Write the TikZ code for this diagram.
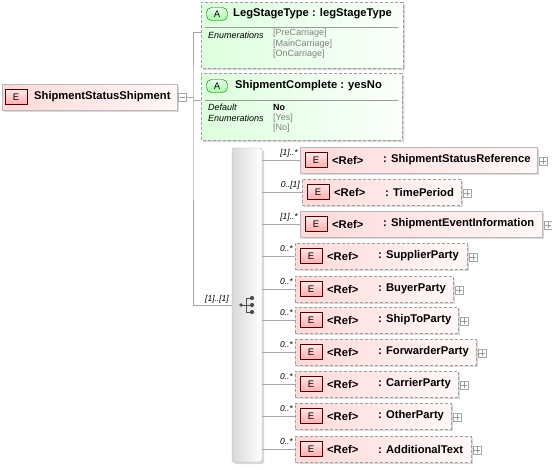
\documentclass[tikz,border=0pt]{standalone}
\usepackage{fontspec}
\setmainfont{Liberation Sans}
\usetikzlibrary{shapes.misc,shadows}
\tikzset{
  shade/.style={drop shadow={shadow xshift=2pt,shadow yshift=-2pt,fill=gray!30,opacity=1}},
  elbox/.style={draw=gray!55,left color=red!15,right color=red!3,shade,inner sep=0pt,minimum height=26pt},
  optbox/.style={elbox,dash pattern=on 3pt off 2pt,draw=gray!75},
  attrbox/.style={chamfered rectangle,chamfered rectangle corners={north west,south west},
    chamfered rectangle xsep=5pt,chamfered rectangle ysep=5pt,draw=gray!75,
    dash pattern=on 3pt off 2pt,left color=green!13,right color=green!2,shade,inner sep=0pt},
  seqbox/.style={draw=gray!60,left color=gray!30,right color=white,rounded corners=2pt,shade,inner sep=0pt},
  ebadge/.style={draw=red!30!black,top color=red!10,bottom color=red!32,minimum width=22pt,
    minimum height=15pt,inner sep=0pt,font=\fontsize{9.5}{9.5}\selectfont},
  abadge/.style={draw=green!40!black,top color=green!8,bottom color=green!35,rounded corners=5pt,
    minimum width=21pt,minimum height=13pt,inner sep=0pt,font=\fontsize{9.5}{9.5}\selectfont},
  plusbox/.style={draw=gray!70,fill=white,minimum size=8pt,inner sep=0pt},
  title/.style={font=\fontsize{11.2}{13}\selectfont\bfseries,inner sep=0pt,anchor=west},
  small/.style={font=\fontsize{9}{10}\selectfont,inner sep=0pt,anchor=west},
  mult/.style={font=\fontsize{8.5}{10}\selectfont\itshape,inner sep=0pt,anchor=east},
  conn/.style={draw=gray!70,line width=0.6pt}
}
\begin{document}
\begin{tikzpicture}[x=1pt,y=-1pt]
\useasboundingbox[fill=white] (0,0) rectangle (552,469);
% root element
\node[elbox,anchor=west,minimum width=175pt] (root) at (2,97) {};
\node[ebadge] (rootE) at (16,97) {E};
\node[title] (rootname) at (34,97) {ShipmentStatusShipment};
\node[plusbox] (rootminus) at (182.5,97) {};
\draw[gray!80] ([xshift=1.5pt]rootminus.west) -- ([xshift=-1.5pt]rootminus.east);
\coordinate (trunk) at (193,97);
% attributes
\node[attrbox,minimum width=202pt,minimum height=66pt] (attr1) at (302,35) {};
\node[abadge] (a1) at (217,14) {A};
\node[title] (a1name) at (233,14) {LegStageType : legStageType};
\draw[gray!80] (205,27) -- (398,27);
\node[small] (a1enum) at (208,35) {\itshape Enumerations};
\foreach \v [count=\k] in {[PreCarriage],[MainCarriage],[OnCarriage]}
  \node[small,text=gray] (a1v\k) at (273,23+10.5*\k) {\v};
\node[attrbox,minimum width=201pt,minimum height=67pt] (attr2) at (301.5,106.5) {};
\node[abadge] (a2) at (217,86) {A};
\node[title] (a2name) at (235,86) {ShipmentComplete : yesNo};
\draw[gray!80] (205,100) -- (398,100);
\node[small] (a2def) at (208,107.5) {\itshape Default};
\node[small] (a2enum) at (208,118) {\itshape Enumerations};
\node[small] (a2d) at (273,107.5) {\bfseries No};
\node[small,text=gray] (a2v1) at (273,118) {[Yes]};
\node[small,text=gray] (a2v2) at (273,128.5) {[No]};
% sequence
\node[seqbox,minimum width=30pt,minimum height=314pt] (seq) at (247,305) {};
\fill[black!70] (241,305) circle (1.8);
\draw[black!70,line width=1pt] (241,305) -- (246,305) (246,298) -- (246,312)
  (246,298) -- (252,298) (246,305) -- (252,305) (246,312) -- (252,312);
\foreach \y in {298,305,312} \fill[black!70] (252,\y) circle (2.1);
\draw[conn] (rootminus.east) -- (trunk);
\draw[conn] ([yshift=3pt]attr1.west) -| (trunk) |- (seq.west);
\draw[conn] (trunk |- 0,100) -- ([yshift=6.5pt]attr2.west);
\node[mult,anchor=south east] (seqmult) at (229,303) {[1]..[1]};
% children
\foreach \cy/\lx/\rx/\nm/\st/\mu [count=\i] in {
  160/300/537/ShipmentStatusReference/elbox/{[1]..*},
  192/302/461/TimePeriod/optbox/{0..[1]},
  224/300/542/ShipmentEventInformation/elbox/{[1]..*},
  256/295/467/SupplierParty/optbox/{0..*},
  289/295/453/BuyerParty/optbox/{0..*},
  320/295/458/ShipToParty/optbox/{0..*},
  352/295/476/ForwarderParty/optbox/{0..*},
  384/295/458/CarrierParty/optbox/{0..*},
  416/295/451/OtherParty/optbox/{0..*},
  449/295/471/AdditionalText/optbox/{0..*}}{
  \node[\st,anchor=west,minimum width=\rx-\lx] (c\i) at (\lx,\cy) {};
  \node[ebadge] (e\i) at (\lx+16,\cy) {E};
  \node[title] (r\i) at (\lx+32,\cy) {<Ref>};
  \node[title] (n\i) at (\lx+83,\cy) {: \nm};
  \node[plusbox] (p\i) at (\rx+6,\cy+1) {};
  \draw[gray!80] ([xshift=1.5pt]p\i.west) -- ([xshift=-1.5pt]p\i.east)
    ([yshift=1.5pt]p\i.south) -- ([yshift=-1.5pt]p\i.north);
  \node[mult] (m\i) at (\lx-2,\cy-7) {\mu};
  \draw[conn] (seq.east |- c\i.west) -- (c\i.west);
}
\end{tikzpicture}
\end{document}
